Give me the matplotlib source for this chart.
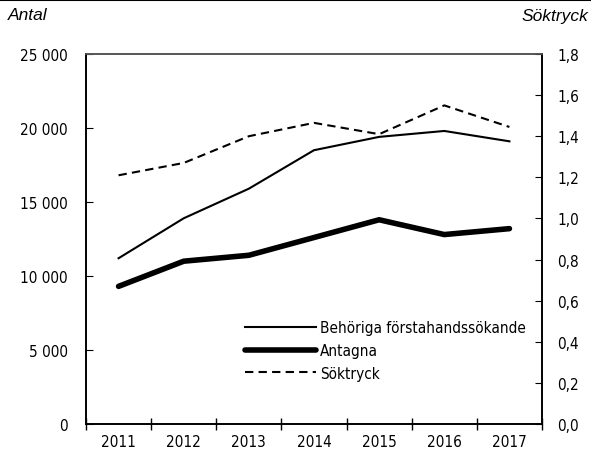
import numpy as np
import matplotlib
import matplotlib.pyplot as plt
from matplotlib.ticker import FuncFormatter, MultipleLocator
from matplotlib.lines import Line2D

matplotlib.rcParams['font.family'] = ['DejaVu Sans']
matplotlib.rcParams['font.stretch'] = 'condensed'
matplotlib.rcParams['font.size'] = 11

years = ['2011', '2012', '2013', '2014', '2015', '2016', '2017']
behoriga = [11200, 13900, 15900, 18500, 19400, 19800, 19100]
antagna = [9300, 11000, 11400, 12600, 13800, 12800, 13200]
soktryck = [1.21, 1.27, 1.40, 1.465, 1.41, 1.55, 1.445]

x = np.arange(len(years))

fig = plt.figure(figsize=(5.91, 4.56), dpi=100)
ax = fig.add_axes([86/591, 1 - 425/456, (542-86)/591, (425-55)/456])
ax2 = ax.twinx()

l1, = ax.plot(x, behoriga, color='black', lw=1.5)
l2, = ax.plot(x, antagna, color='black', lw=4, solid_capstyle='round')
l3, = ax2.plot(x, soktryck, color='black', lw=1.5, dashes=(4, 2.5))

ax.set_xlim(-0.5, len(years) - 0.5)
ax.set_ylim(0, 25000)
ax2.set_ylim(0, 1.8)

ax.set_xticks(x)
ax.set_xticklabels(years)
ax.set_xticks(np.arange(-0.5, len(years), 1.0), minor=True)
ax.tick_params(axis='x', which='major', length=0, pad=7)
ax.tick_params(axis='x', which='minor', direction='inout', length=8, width=1)
ax.yaxis.set_major_locator(MultipleLocator(5000))
ax.yaxis.set_major_formatter(FuncFormatter(lambda v, p: '{:,.0f}'.format(v).replace(',', ' ')))
ax.tick_params(axis='y', direction='in', length=5, pad=13)
ax2.yaxis.set_major_locator(MultipleLocator(0.2))
ax2.yaxis.set_major_formatter(FuncFormatter(lambda v, p: '{:.1f}'.format(v).replace('.', ',')))
ax2.tick_params(axis='y', direction='in', length=5, pad=11)

for a in [ax, ax2]:
    for s in a.spines.values():
        s.set_linewidth(1.2)
    a.spines['top'].set_color('#555555')

fig.text(8/591, 1 - 16/456, 'Antal', style='italic', va='center', ha='left',
         family='Liberation Sans', stretch='normal', fontsize=12.5)
fig.text(588/591, 1 - 16/456, 'Söktryck', style='italic', va='center', ha='right',
         family='Liberation Sans', stretch='normal', fontsize=12.5)
fig.add_artist(Line2D([0, 1], [1 - 0.7/456, 1 - 0.7/456], color='black', lw=1.5))

ax.legend([l1, l2, l3], ['Behöriga förstahandssökande', 'Antagna', 'Söktryck'],
          loc='lower right', bbox_to_anchor=(0.995, 0.08), frameon=False,
          handlelength=4.6, handletextpad=0.3, labelspacing=0.5)

plt.savefig('out.png', dpi=100)
